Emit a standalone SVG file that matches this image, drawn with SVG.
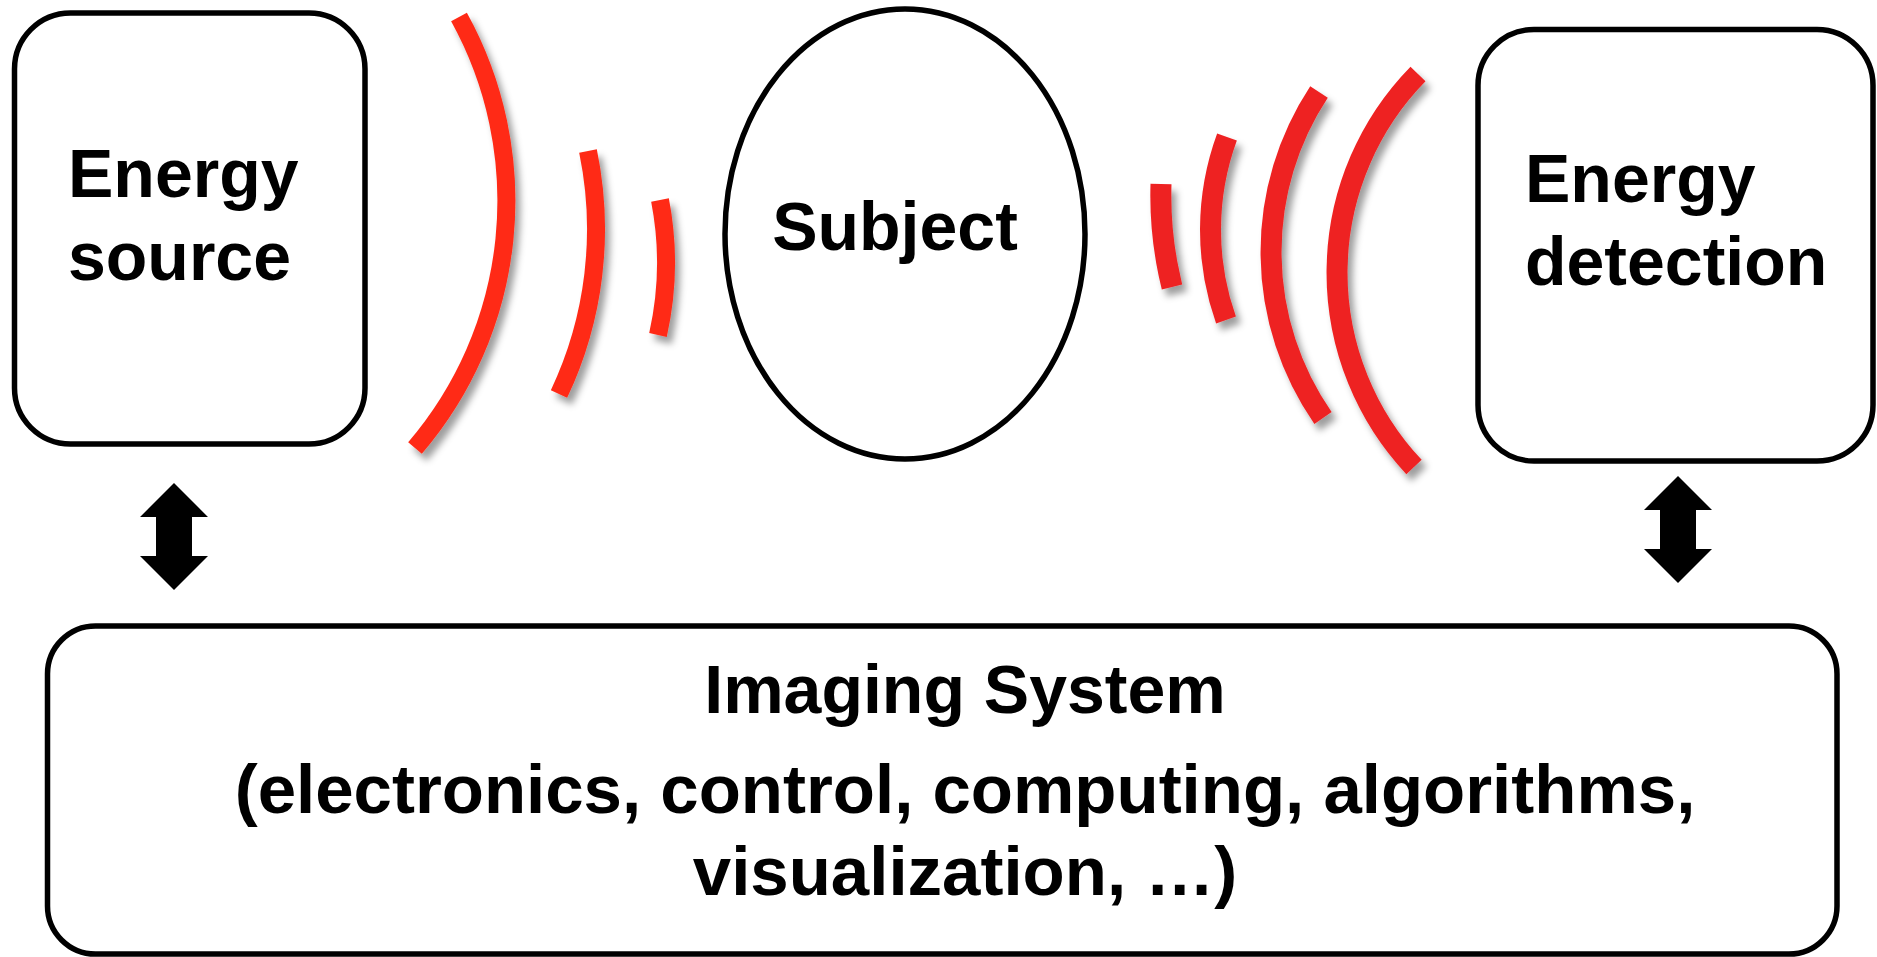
<svg xmlns="http://www.w3.org/2000/svg" width="1877" height="957" viewBox="0 0 1877 957">
  <style>
    .box { fill: #ffffff; stroke: #000000; stroke-width: 5.5; }
    .label { font-family: "Liberation Sans", Arial, Helvetica, sans-serif; font-weight: bold; fill: #000000; }
    .wave-l { fill: none; stroke: #ff2a17; stroke-width: 18; stroke-linecap: butt; }
    .wave-r { fill: none; stroke: #ee2224; stroke-width: 21; stroke-linecap: butt; }
    .dbl { fill: #000000; stroke: none; }
  </style>
  <defs>
    <filter id="drop" x="-40%" y="-20%" width="180%" height="140%">
      <feGaussianBlur in="SourceAlpha" stdDeviation="3.5" result="blur"/>
      <feOffset in="blur" dx="5" dy="7" result="off"/>
      <feFlood flood-color="#000000" flood-opacity="0.38"/>
      <feComposite in2="off" operator="in" result="shade"/>
      <feMerge>
        <feMergeNode in="shade"/>
        <feMergeNode in="SourceGraphic"/>
      </feMerge>
    </filter>
  </defs>

  <rect width="1877" height="957" fill="#ffffff"/>

  <!-- emitted waves (source side) -->
  <g id="waves-emitted" filter="url(#drop)">
    <path class="wave-l" d="M459,17 A380,380 0 0 1 415,448"/>
    <path class="wave-l" d="M588,151 A385,385 0 0 1 559,394"/>
    <path class="wave-l" d="M660,200 A330,330 0 0 1 658,335"/>
  </g>

  <!-- received waves (detector side) -->
  <g id="waves-received" filter="url(#drop)">
    <path class="wave-r" d="M1161,184 A380,380 0 0 0 1172,287"/>
    <path class="wave-r" d="M1227,137 A270,270 0 0 0 1226,320"/>
    <path class="wave-r" d="M1319,92 A291,291 0 0 0 1323,418"/>
    <path class="wave-r" d="M1418,74 A284,284 0 0 0 1414,467"/>
  </g>

  <g id="energy-source">
    <rect class="box" x="14.5" y="13" width="350.5" height="431" rx="56" ry="56"/>
    <text class="label" font-size="68" x="68" y="197">Energy</text>
    <text class="label" font-size="68" x="68" y="280">source</text>
  </g>

  <g id="subject">
    <ellipse class="box" cx="905" cy="234" rx="180" ry="225"/>
    <text class="label" font-size="68" x="895" y="250" text-anchor="middle">Subject</text>
  </g>

  <g id="energy-detection">
    <rect class="box" x="1478" y="29.5" width="395" height="431.5" rx="56" ry="56"/>
    <text class="label" font-size="68" x="1525" y="202">Energy</text>
    <text class="label" font-size="68" x="1525" y="285">detection</text>
  </g>

  <g id="imaging-system">
    <rect class="box" x="47.5" y="626" width="1789.5" height="328" rx="48" ry="48"/>
    <text class="label" font-size="68" x="965" y="713" text-anchor="middle">Imaging System</text>
    <text class="label" font-size="69" x="965" y="813" text-anchor="middle">(electronics, control, computing, algorithms,</text>
    <text class="label" font-size="69" x="965" y="895" text-anchor="middle">visualization, …)</text>
  </g>

  <!-- two-way links to the imaging system -->
  <g id="connectors">
    <polygon class="dbl" points="174,483 208,517 192,517 192,556 208,556 174,590 140,556 156,556 156,517 140,517"/>
    <polygon class="dbl" points="1678,476 1712,510 1696,510 1696,549 1712,549 1678,583 1644,549 1660,549 1660,510 1644,510"/>
  </g>
</svg>
